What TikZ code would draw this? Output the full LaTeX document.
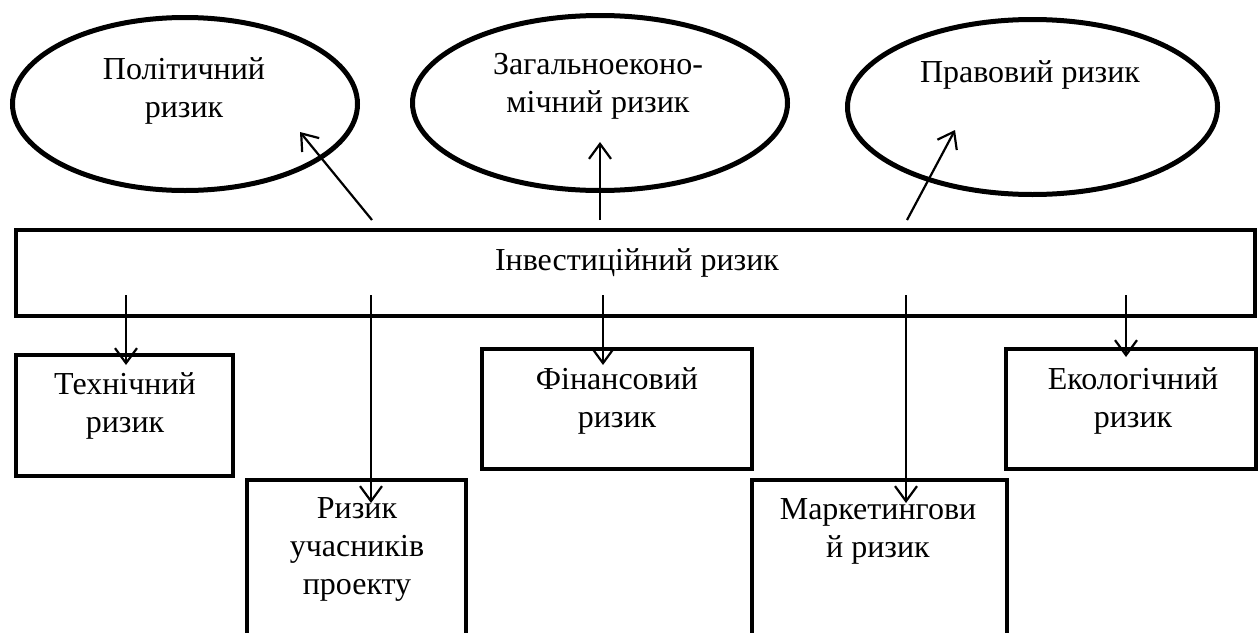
\documentclass[tikz,border=0pt]{standalone}
\usepackage{fontspec}
\setmainfont{Liberation Serif}
\usetikzlibrary{shapes.geometric,arrows.meta}
\begin{document}
\begin{tikzpicture}[x=1pt,y=-1pt,
  oval/.style={draw,ellipse,line width=5pt,inner sep=0pt},
  box/.style={draw,rectangle,line width=4.5pt,inner sep=0pt},
  txt/.style={align=center,inner sep=0pt,font=\fontsize{32}{38}\selectfont},
  arr/.style={line width=2.2pt,-{Straight Barb[length=15pt,width=22pt,line width=2.2pt]}}]
\useasboundingbox (0,0) rectangle (1260,632);
\clip (0,0) rectangle (1260,632);
% ellipses
\node[oval,minimum width=345pt,minimum height=173pt] (pol) at (185,104) {};
\node[oval,minimum width=375pt,minimum height=175pt] (gen) at (600,103) {};
\node[oval,minimum width=370pt,minimum height=175pt] (prav) at (1032.5,107) {};
% main rectangle
\node[box,minimum width=1239pt,minimum height=86pt] (inv) at (635.5,273) {};
% boxes
\node[box,minimum width=217pt,minimum height=121pt] (tech) at (124.5,415.5) {};
\node[box,minimum width=219pt,minimum height=190pt] (part) at (356.5,575) {};
\node[box,minimum width=270pt,minimum height=120pt] (fin) at (617,409) {};
\node[box,minimum width=255pt,minimum height=190pt] (mark) at (879.5,575) {};
\node[box,minimum width=250pt,minimum height=120pt] (eco) at (1131,409) {};
% texts
\node[txt] (tpol) at (184,91) {Політичний\\ризик};
\node[txt] (tgen) at (598,86) {Загальноеконо-\\мічний ризик};
\node[txt] (tprav) at (1030,75) {Правовий ризик};
\node[txt] (tinv) at (637,263) {Інвестиційний ризик};
\node[txt] (ttech) at (125,406) {Технічний\\ризик};
\node[txt] (tpart) at (357,549) {Ризик\\учасників\\проекту};
\node[txt] (tfin) at (617,401) {Фінансовий\\ризик};
\node[txt] (tmark) at (878,531) {Маркетингови\\й ризик};
\node[txt] (teco) at (1133,401) {Екологічний\\ризик};
% connector ends
\coordinate (u1s) at (372,220); \coordinate (u1e) at (300,132);
\coordinate (u2s) at (600,220); \coordinate (u2e) at (600,142);
\coordinate (u3s) at (907,220); \coordinate (u3e) at (955,130);
\coordinate (d1s) at (126,295); \coordinate (d1e) at (126,365);
\coordinate (d2s) at (371,295); \coordinate (d2e) at (371,503);
\coordinate (d3s) at (603,295); \coordinate (d3e) at (603,365);
\coordinate (d4s) at (906,295); \coordinate (d4e) at (906,503);
\coordinate (d5s) at (1126,295); \coordinate (d5e) at (1126,357);
\draw[arr] (u1s) -- (u1e);
\draw[arr] (u2s) -- (u2e);
\draw[arr] (u3s) -- (u3e);
\draw[arr] (d1s) -- (d1e);
\draw[arr] (d2s) -- (d2e);
\draw[arr] (d3s) -- (d3e);
\draw[arr] (d4s) -- (d4e);
\draw[arr] (d5s) -- (d5e);
\end{tikzpicture}
\end{document}
